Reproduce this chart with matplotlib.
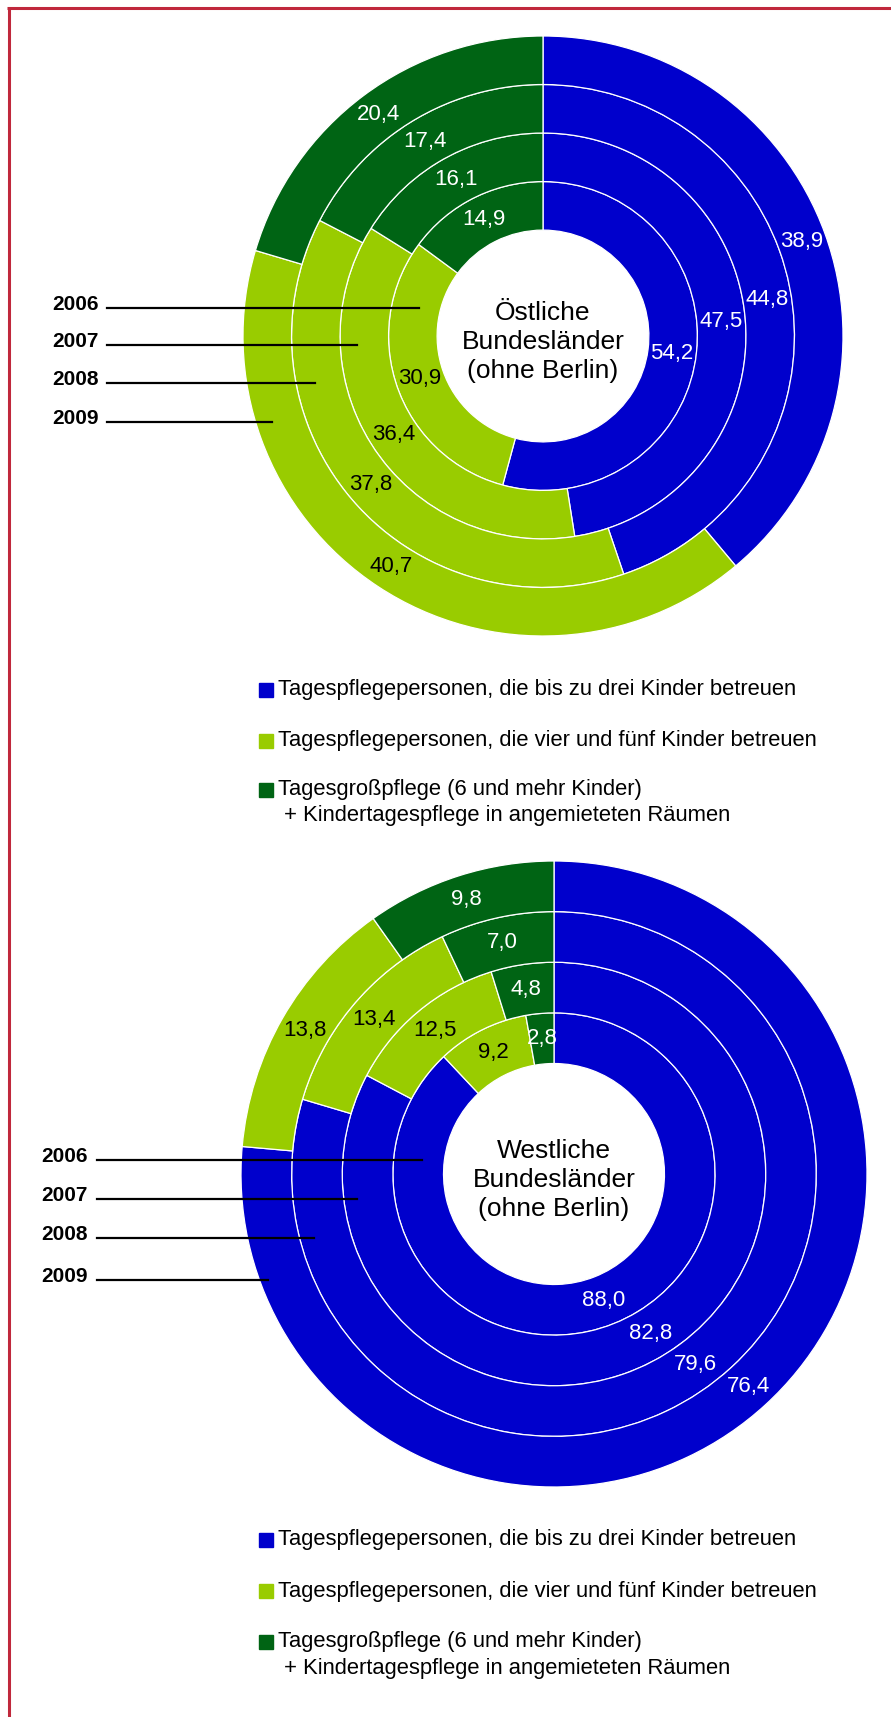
import matplotlib
matplotlib.use("Agg")
import matplotlib.pyplot as plt
from matplotlib.patches import Rectangle
import numpy as np

plt.rcParams['font.family'] = ['Liberation Sans', 'DejaVu Sans']

W, H = 891, 1717

years = ["2006", "2007", "2008", "2009"]
categories = [
    "Tagespflegepersonen, die bis zu drei Kinder betreuen",
    "Tagespflegepersonen, die vier und fünf Kinder betreuen",
    "Tagesgroßpflege (6 und mehr Kinder)",
]
category_line2 = "+ Kindertagespflege in angemieteten Räumen"
colors = ["#0000CC", "#99CC00", "#006414"]
text_colors = ["white", "black", "white"]

# Anteile in %, je Jahr 2006..2009
ost_bis3 = [54.2, 47.5, 44.8, 38.9]
ost_vier5 = [30.9, 36.4, 37.8, 40.7]
ost_gross = [14.9, 16.1, 17.4, 20.4]

west_bis3 = [88.0, 82.8, 79.6, 76.4]
west_vier5 = [9.2, 12.5, 13.4, 13.8]
west_gross = [2.8, 4.8, 7.0, 9.8]


def fmt(v):
    return ("%.1f" % v).replace(".", ",")


def py(y):
    # pixel von oben -> Datenkoordinate
    return H - y


def ringe(ax, cx, cy, R, bis3, vier5, gross, titel, line_y, line_x0, line_x1, text_x):
    hole = 0.353 * R
    w = (R - hole) / 4
    for i in range(4):
        r_out = hole + (i + 1) * w
        vals = [bis3[i], vier5[i], gross[i]]
        wedges, _ = ax.pie(vals, radius=r_out, center=(cx, py(cy)), startangle=90,
                           counterclock=False, colors=colors,
                           wedgeprops=dict(width=w, edgecolor="white", linewidth=0.9))
        rm = r_out - w / 2
        for wd, v, tc in zip(wedges, vals, text_colors):
            th = np.deg2rad((wd.theta1 + wd.theta2) / 2)
            ax.text(cx + rm * np.cos(th), py(cy) + rm * np.sin(th), fmt(v),
                    ha="center", va="center", fontsize=16, color=tc)
    ax.text(cx, py(cy + 6), titel, ha="center", va="center", fontsize=19,
            linespacing=1.28)
    for j, yr in enumerate(years):
        ax.plot([line_x0, line_x1[j]], [py(line_y[j]), py(line_y[j])], color="black", lw=1.6)
        ax.text(text_x, py(line_y[j] + 2), yr, ha="right", va="baseline",
                fontsize=15, fontweight="bold")


def legende(ax, rows):
    for k in range(3):
        ax.add_patch(Rectangle((259, py(rows[k] + 7)), 14, 14, color=colors[k]))
        ax.text(278, py(rows[k]), categories[k], ha="left", va="center", fontsize=15.8)
    ax.text(284, py(rows[3]), category_line2, ha="left", va="center", fontsize=15.8)


fig = plt.figure(figsize=(W / 100, H / 100), dpi=100)
ax = fig.add_axes([0, 0, 1, 1])

ringe(ax, 543, 336, 300, ost_bis3, ost_vier5, ost_gross,
      "Östliche\nBundesländer\n(ohne Berlin)",
      [308, 345, 383, 422], 107, [419, 357, 315, 272], 99)
legende(ax, [690, 741, 790, 816])

ringe(ax, 554, 1174, 313, west_bis3, west_vier5, west_gross,
      "Westliche\nBundesländer\n(ohne Berlin)",
      [1160, 1199, 1238, 1280], 97, [422, 357, 314, 268], 88)
legende(ax, [1540, 1591, 1642, 1668])

# roter Rahmen oben und links
ax.plot([7, W], [py(8.5), py(8.5)], color="#C0283C", lw=2.2, solid_capstyle="butt")
ax.plot([8.5, 8.5], [py(7), 0], color="#C0283C", lw=2.2, solid_capstyle="butt")

ax.set_xlim(0, W)
ax.set_ylim(0, H)
ax.set_aspect("equal")
ax.axis("off")

fig.savefig("out.png", dpi=100)
